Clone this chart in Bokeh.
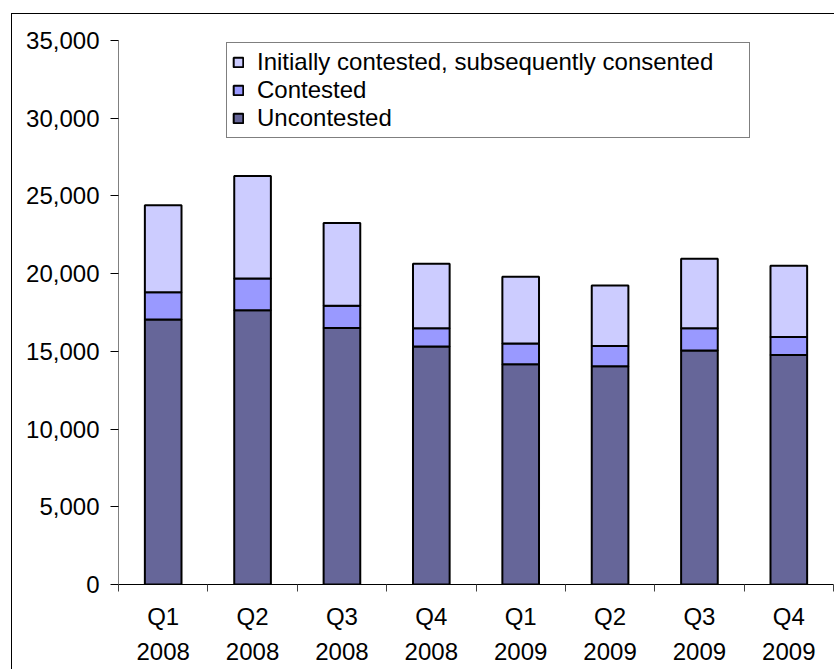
from bokeh.plotting import figure
from bokeh.models import (Range1d, FixedTicker, NumeralTickFormatter, LinearAxis,
                          Legend, LegendItem, ColumnDataSource)
from bokeh.embed import file_html
from bokeh.resources import INLINE

quarters = ["Q1", "Q2", "Q3", "Q4", "Q1", "Q2", "Q3", "Q4"]
years = ["2008", "2008", "2008", "2008", "2009", "2009", "2009", "2009"]
uncontested = [17050, 17650, 16500, 15320, 14170, 14040, 15050, 14770]
contested = [1750, 2030, 1440, 1160, 1330, 1310, 1430, 1150]
initially = [5600, 6600, 5320, 4160, 4300, 3880, 4480, 4590]
series_names = ["Uncontested", "Contested", "Initially contested, subsequently consented"]
colors = ["#666699", "#9999FF", "#CCCCFF"]
y_ticks = [0, 5000, 10000, 15000, 20000, 25000, 30000, 35000]

FONT = "Liberation Sans"
FS = "24px"

n = len(quarters)
centers = [i + 0.5 for i in range(n)]
bounds = [float(i) for i in range(n + 1)]
source = ColumnDataSource(dict(x=centers, unc=uncontested, con=contested, ini=initially))

p = figure(width=823, height=656, x_range=Range1d(0, n), y_range=Range1d(0, 35000),
           output_backend="svg", toolbar_location=None,
           min_border_left=106, min_border_right=2, min_border_top=26, min_border_bottom=86)
p.margin = (13, 0, 0, 11)
p.styles = {"border-left": "1px solid #000", "border-top": "1px solid #000"}
p.outline_line_color = None
p.xgrid.visible = False
p.ygrid.visible = False
p.background_fill_color = "white"
p.border_fill_color = "white"

rs = p.vbar_stack(["unc", "con", "ini"], x="x", width=0.41, source=source,
                  fill_color=colors, line_color="black", line_width=2)

# y axis
ya = p.yaxis[0]
ya.ticker = FixedTicker(ticks=y_ticks)
ya.formatter = NumeralTickFormatter(format="0,0")
ya.axis_line_color = "#808080"
ya.major_tick_line_color = "#000000"
ya.major_tick_out = 8
ya.major_tick_in = 0
ya.minor_tick_line_color = None
ya.major_label_standoff = 11
ya.major_label_text_font = FONT
ya.major_label_text_font_size = FS
ya.major_label_text_color = "#000000"

# x axis: quarter labels, boundary ticks
xa = p.xaxis[0]
xa.ticker = FixedTicker(ticks=centers, minor_ticks=bounds)
xa.major_label_overrides = {c: q for c, q in zip(centers, quarters)}
xa.major_tick_out = 0
xa.major_tick_in = 0
xa.minor_tick_out = 7
xa.minor_tick_in = 0
xa.minor_tick_line_color = "#404040"
xa.axis_line_color = "#000000"
xa.major_label_standoff = 11
xa.major_label_text_font = FONT
xa.major_label_text_font_size = FS
xa.major_label_text_color = "#000000"

# second x axis: years
xa2 = LinearAxis(ticker=FixedTicker(ticks=centers))
xa2.major_label_overrides = {c: y for c, y in zip(centers, years)}
xa2.axis_line_color = None
xa2.major_tick_line_color = None
xa2.minor_tick_line_color = None
xa2.major_tick_out = 0
xa2.major_tick_in = 0
xa2.major_label_standoff = 10
xa2.major_label_text_font = FONT
xa2.major_label_text_font_size = FS
xa2.major_label_text_color = "#000000"
p.add_layout(xa2, "below")

legend = Legend(items=[LegendItem(label=series_names[2], renderers=[rs[2]]),
                       LegendItem(label=series_names[1], renderers=[rs[1]]),
                       LegendItem(label=series_names[0], renderers=[rs[0]])],
                location=(108, 446))
legend.label_text_font = FONT
legend.label_text_font_size = FS
legend.label_text_color = "#000000"
legend.glyph_width = 12
legend.glyph_height = 12
legend.label_standoff = 13
legend.padding = 5
legend.spacing = 0
legend.margin = 0
legend.label_height = 28
legend.label_width = 487
legend.border_line_color = "#000000"
legend.border_line_width = 1
legend.background_fill_color = "white"
legend.background_fill_alpha = 1
p.add_layout(legend)

open("out.html", "w").write(file_html(p, INLINE))
